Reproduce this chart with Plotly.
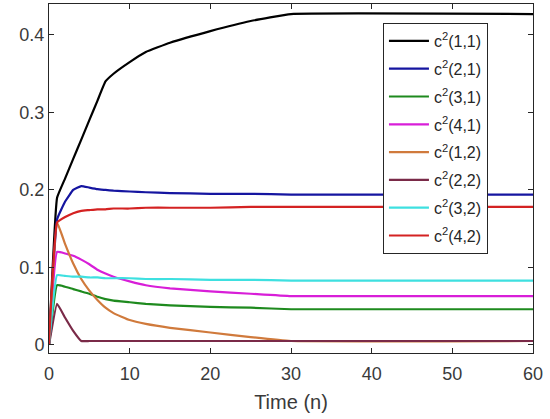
import plotly.graph_objects as go

t = [0, 1, 2, 3, 4, 5, 6, 7, 8, 10, 12, 15, 20, 25, 30, 60]

c11 = [0, 0.19, 0.215, 0.24, 0.265, 0.29, 0.315, 0.34, 0.35, 0.365, 0.378, 0.39, 0.405, 0.418, 0.427, 0.427]
c21 = [0, 0.162, 0.185, 0.2, 0.205, 0.203, 0.201, 0.2, 0.199, 0.198, 0.197, 0.196, 0.195, 0.195, 0.194, 0.194]
c31 = [0, 0.077, 0.075, 0.072, 0.069, 0.066, 0.062, 0.059, 0.057, 0.055, 0.053, 0.051, 0.049, 0.048, 0.046, 0.046]
c41 = [0, 0.12, 0.118, 0.115, 0.11, 0.104, 0.097, 0.092, 0.088, 0.082, 0.077, 0.073, 0.069, 0.066, 0.063, 0.063]
c12 = [0, 0.158, 0.13, 0.105, 0.085, 0.07, 0.058, 0.048, 0.041, 0.032, 0.027, 0.022, 0.016, 0.01, 0.005, 0.005]
c22 = [0, 0.053, 0.035, 0.018, 0.005, 0.005, 0.005, 0.005, 0.005, 0.005, 0.005, 0.005, 0.005, 0.005, 0.005, 0.005]
c32 = [0, 0.09, 0.089, 0.088, 0.088, 0.087, 0.087, 0.086, 0.086, 0.086, 0.085, 0.085, 0.084, 0.084, 0.083, 0.083]
c42 = [0, 0.158, 0.165, 0.17, 0.173, 0.174, 0.175, 0.175, 0.176, 0.176, 0.177, 0.177, 0.177, 0.178, 0.178, 0.178]

names = ["c<sup>2</sup>(1,1)", "c<sup>2</sup>(2,1)", "c<sup>2</sup>(3,1)", "c<sup>2</sup>(4,1)",
         "c<sup>2</sup>(1,2)", "c<sup>2</sup>(2,2)", "c<sup>2</sup>(3,2)", "c<sup>2</sup>(4,2)"]
series = [c11, c21, c31, c41, c12, c22, c32, c42]
colors = ["#000000", "#1515a0", "#1e8a1e", "#d81ed8", "#d07a3c", "#7a2a48", "#3ee0e0", "#d42222"]

fig = go.Figure()
for i, (n, s, c) in enumerate(zip(names, series, colors)):
    fig.add_trace(go.Scatter(x=t, y=s, mode="lines", name=n, legendgroup=f"g{i}",
                             line=dict(color=c, width=2.2, shape="spline", smoothing=0.3)))

font_family = "Arial, Liberation Sans, sans-serif"
axis_common = dict(showline=True, linecolor="#262626", linewidth=1, mirror="ticks",
                   ticks="inside", ticklen=5, tickcolor="#262626", showgrid=False,
                   zeroline=False, tickfont=dict(family=font_family, size=18, color="#3a3a3a"))

fig.update_layout(
    width=550, height=419,
    margin=dict(l=49, r=17, t=4, b=66),
    paper_bgcolor="white", plot_bgcolor="white",
    showlegend=True,
    legend=dict(x=0.69, y=0.9456, xanchor="left", yanchor="top",
                bordercolor="#262626", borderwidth=1, bgcolor="white",
                font=dict(family=font_family, size=16, color="#262626"),
                tracegroupgap=4, itemwidth=40),
    xaxis=dict(range=[0, 60], tickvals=[0, 10, 20, 30, 40, 50, 60], ticklabelstandoff=4,
               title=dict(text="Time (n)", font=dict(family=font_family, size=20, color="#3a3a3a"), standoff=12),
               **axis_common),
    yaxis=dict(range=[-0.0105, 0.44], tickvals=[0, 0.1, 0.2, 0.3, 0.4],
               ticktext=["0", "0.1", "0.2", "0.3", "0.4"], **axis_common),
)

fig.write_html("out.html")
